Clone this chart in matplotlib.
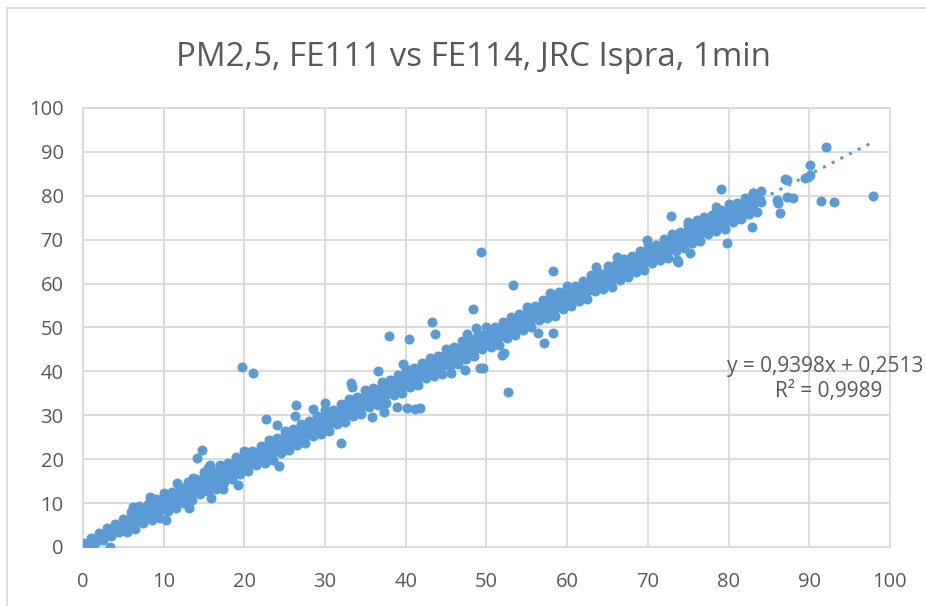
import numpy as np
import matplotlib
matplotlib.use("Agg")
import matplotlib.pyplot as plt
from matplotlib.lines import Line2D

plt.rcParams['font.family'] = ['Open Sans', 'DejaVu Sans']

title = "PM2,5, FE111 vs FE114, JRC Ispra, 1min"
eq_text = "y = 0,9398x + 0,2513"
r2_text = "R² = 0,9989"
slope, intercept = 0.9398, 0.2513
ticks = [0, 10, 20, 30, 40, 50, 60, 70, 80, 90, 100]

band_x_int = list(range(0, 85))
band_top = [1.0, 2.1, 3.2, 4.3, 5.3, 6.4, 8.0, 9.3, 9.8, 11.0, 12.4, 12.5, 13.7, 14.9, 15.4,
            17.0, 17.4, 18.7, 19.2, 20.4, 21.8, 21.9, 23.1, 24.3, 24.8, 26.4, 26.8, 28.1,
            28.6, 29.8, 31.2, 31.3, 32.5, 33.7, 34.2, 35.8, 36.2, 37.5, 38.0, 39.2, 40.6,
            40.7, 41.9, 43.1, 43.6, 45.2, 45.6, 46.9, 47.4, 48.6, 50.0, 50.1, 51.3, 52.5,
            53.0, 54.6, 55.0, 56.3, 56.8, 58.0, 59.4, 59.5, 60.7, 61.9, 62.4, 64.0, 64.4,
            65.7, 66.2, 67.4, 68.8, 68.9, 70.1, 71.3, 71.8, 73.4, 73.8, 75.1, 75.6, 76.8,
            78.2, 78.3, 79.5, 80.7, 81.0]
band_low = [0.1, 0.9, 1.8, 2.7, 3.6, 4.5, 5.5, 6.2, 7.5, 8.0, 9.2, 10.2, 10.9, 12.2, 12.7,
            13.9, 14.9, 15.6, 16.9, 17.4, 18.6, 19.6, 20.3, 21.6, 22.1, 23.3, 24.3, 25.0,
            26.3, 26.8, 28.0, 29.0, 29.7, 31.0, 31.5, 32.7, 33.7, 34.4, 35.7, 36.2, 37.4,
            38.4, 39.1, 40.4, 40.9, 42.1, 43.1, 43.8, 45.1, 45.6, 46.8, 47.8, 48.5, 49.8,
            50.3, 51.5, 52.5, 53.2, 54.5, 55.0, 56.2, 57.2, 57.9, 59.2, 59.7, 60.9, 61.9,
            62.6, 63.9, 64.4, 65.6, 66.6, 67.3, 68.6, 69.1, 70.3, 71.3, 72.0, 73.3, 73.8,
            75.0, 76.0, 76.7, 78.0, 78.5]
band_x_half = [v + 0.5 for v in range(0, 84)]
band_mid = [0.9, 1.8, 2.8, 3.9, 4.9, 6.0, 7.2, 7.6, 8.9, 10.1, 10.6, 11.8, 12.5, 13.8, 14.2,
            15.5, 16.7, 17.1, 18.4, 19.1, 20.4, 20.8, 22.0, 23.3, 23.7, 25.0, 25.7, 26.9,
            27.4, 28.6, 29.9, 30.3, 31.5, 32.3, 33.5, 34.0, 35.2, 36.4, 36.9, 38.1, 38.9,
            40.1, 40.5, 41.8, 43.0, 43.5, 44.7, 45.4, 46.7, 47.1, 48.4, 49.6, 50.0, 51.3,
            52.0, 53.3, 53.7, 54.9, 56.2, 56.6, 57.9, 58.6, 59.8, 60.3, 61.5, 62.8, 63.2,
            64.4, 65.2, 66.4, 66.9, 68.1, 69.3, 69.8, 71.0, 71.8, 73.0, 73.4, 74.7, 75.9,
            76.4, 77.6, 78.3, 79.6]
band_bottom = [0.0, 0.8, 1.6, 2.5, 3.3, 3.5, 4.0, 5.5, 6.1, 6.6, 8.3, 8.8, 10.0, 10.6, 12.1,
               12.7, 13.2, 14.8, 15.4, 16.6, 17.2, 18.7, 19.2, 19.8, 21.4, 22.0, 23.2, 23.7,
               25.3, 25.8, 26.4, 28.0, 28.5, 29.8, 30.3, 31.9, 32.4, 32.9, 34.6, 35.1, 36.4,
               36.9, 38.4, 39.0, 39.5, 41.2, 41.7, 42.9, 43.5, 45.0, 45.6, 46.1, 47.7, 48.3,
               49.5, 50.1, 51.6, 52.1, 52.7, 54.3, 54.9, 56.1, 56.6, 58.2, 58.7, 59.3, 60.9,
               61.4, 62.7, 63.2, 64.8, 65.3, 65.8, 67.5, 68.0, 69.3, 69.8, 71.3, 71.9, 72.4,
               74.1, 74.6, 75.8, 76.4]

# scattered points away from the band
out_x = [92.1, 90.1, 89.8, 90.1, 89.5, 87.2, 87.0, 79.1, 97.9, 91.4, 93.1, 88.0, 87.2,
         86.0, 86.1, 86.4, 82.9, 78.4, 83.0, 82.3, 79.8, 72.9, 69.9, 66.2, 75.2, 73.6,
         75.0, 76.1, 49.3, 58.2, 53.3, 63.6, 57.9, 48.3, 43.2, 43.6, 37.9, 40.4, 48.7,
         47.6, 36.6, 39.7, 33.2, 33.3, 30.0, 28.5, 32.0, 52.7, 52.2, 51.9, 49.2, 49.6,
         57.1, 58.2, 56.4, 41.1, 41.8, 38.9, 40.1, 35.8, 37.3, 45.6, 47.3, 19.7, 21.1,
         26.4, 26.3, 22.7, 24.0, 14.7, 14.1, 15.7, 15.5, 24.3, 19.2, 15.9, 13.1, 10.3,
         11.6, 8.3, 6.2, 3.3, 17.3, 13.6, 73.7]
out_y = [91.1, 87.0, 84.3, 84.7, 84.0, 83.6, 83.8, 81.6, 79.9, 78.7, 78.5, 79.5, 79.7,
         79.0, 78.4, 76.1, 72.9, 77.4, 80.6, 79.0, 69.2, 75.4, 69.9, 66.1, 67.0, 65.4,
         74.0, 74.5, 67.2, 62.9, 59.7, 63.8, 57.9, 54.2, 51.3, 48.5, 48.1, 47.4, 49.9,
         48.5, 40.1, 41.7, 37.4, 36.5, 32.8, 31.4, 23.7, 35.3, 44.2, 43.7, 40.8, 40.8,
         46.5, 48.7, 48.7, 31.4, 31.7, 31.9, 31.7, 29.6, 30.8, 39.6, 40.3, 41.0, 39.6,
         32.3, 29.8, 29.2, 27.8, 22.1, 20.3, 18.7, 18.0, 18.5, 14.1, 11.2, 8.9, 6.2,
         14.6, 11.4, 9.1, 0.0, 13.2, 15.7, 64.9]

blue = '#5b9bd5'
grey_txt = '#595959'
grid_c = '#d9d9d9'

fig = plt.figure(figsize=(9.26, 6.06), dpi=100)
ax = fig.add_axes([0.0896, 0.0974, 0.8715, 0.7244])

# the band is so dense that its inside is solid: fill between the outer rows
poly_x = band_x_int + band_x_half[::-1]
poly_y = band_top + band_bottom[::-1]
ax.fill(poly_x, poly_y, color=blue, lw=0, zorder=3)

xs = band_x_int + band_x_half + band_x_int + band_x_half + out_x
ys = band_top + band_mid + band_low + band_bottom + out_y
ax.scatter(xs, ys, s=52, color=blue, linewidths=0, zorder=3)

fit_x = np.array([0, 98])
ax.plot(fit_x, slope * fit_x + intercept, linestyle=(0, (1, 2.2)), color=blue,
        lw=2.2, zorder=4)

ax.set_xlim(0, 100)
ax.set_ylim(0, 100)
ax.set_xticks(ticks)
ax.set_yticks(ticks)
ax.grid(True, color=grid_c, lw=1.3)
ax.set_axisbelow(True)
for sp in ax.spines.values():
    sp.set_color(grid_c)
    sp.set_linewidth(1.3)
ax.tick_params(length=0, labelsize=14.5, labelcolor=grey_txt)
ax.tick_params(axis='x', pad=18)
ax.tick_params(axis='y', pad=14)

fig.text(0.511, 0.905, title, ha='center', va='center', fontsize=23.8, color=grey_txt)

ax.text(79.8, 41.0, eq_text, ha='left', va='center', fontsize=15, color=grey_txt,
        clip_on=False)
ax.text(99.1, 35.5, r2_text, ha='right', va='center', fontsize=15, color=grey_txt,
        clip_on=False)

# chart frame (only top and left edges show in the crop)
fig.add_artist(Line2D([7 / 926, 7 / 926], [0, 1 - 8 / 606], transform=fig.transFigure,
                      color=grid_c, lw=1.3))
fig.add_artist(Line2D([7 / 926, 1], [1 - 8 / 606, 1 - 8 / 606], transform=fig.transFigure,
                      color=grid_c, lw=1.3))

fig.savefig('out.png', dpi=100)
